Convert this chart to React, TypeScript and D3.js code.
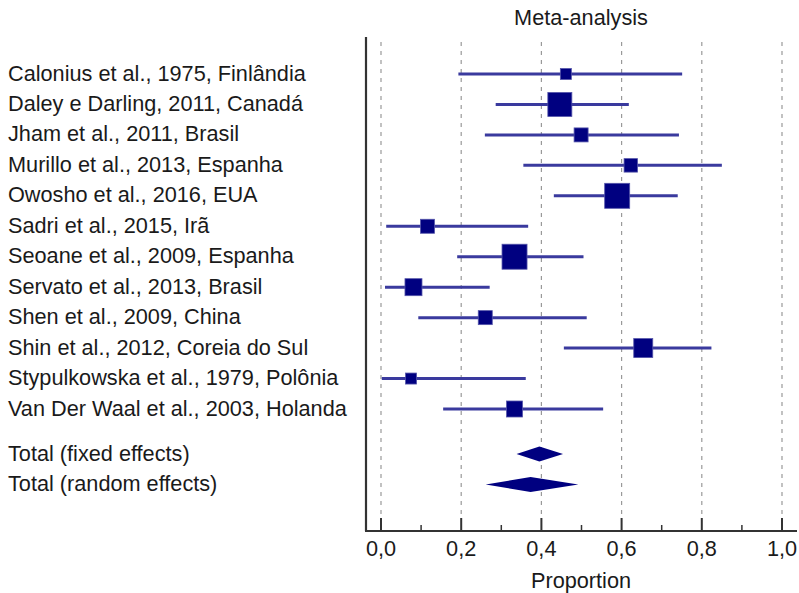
import React from "react";
import * as d3 from "d3";

const studies = [
  "Calonius et al., 1975, Finlândia",
  "Daley e Darling, 2011, Canadá",
  "Jham et al., 2011, Brasil",
  "Murillo et al., 2013, Espanha",
  "Owosho et al., 2016, EUA",
  "Sadri et al., 2015, Irã",
  "Seoane et al., 2009, Espanha",
  "Servato et al., 2013, Brasil",
  "Shen et al., 2009, China",
  "Shin et al., 2012, Coreia do Sul",
  "Stypulkowska et al., 1979, Polônia",
  "Van Der Waal et al., 2003, Holanda",
];
const estimates = [0.461, 0.446, 0.499, 0.623, 0.589, 0.116, 0.333, 0.081, 0.26, 0.654, 0.075, 0.333];
const lowerCI = [0.193, 0.286, 0.259, 0.355, 0.431, 0.013, 0.19, 0.01, 0.093, 0.456, 0.002, 0.155];
const upperCI = [0.751, 0.618, 0.743, 0.85, 0.74, 0.367, 0.505, 0.271, 0.513, 0.824, 0.361, 0.554];
const weights = [11, 24, 14, 13.5, 25, 14, 25, 17, 14, 19, 11, 16];

const totalLabels = ["Total (fixed effects)", "Total (random effects)"];
const totalEst = [0.395, 0.373];
const totalLow = [0.338, 0.261];
const totalHigh = [0.454, 0.492];

const majorTicks = [0, 0.2, 0.4, 0.6, 0.8, 1.0];
const minorTicks = [0.1, 0.3, 0.5, 0.7, 0.9];

export default function App() {
  const W = 799, H = 593;
  const x = d3.scaleLinear().domain([0, 1]).range([381, 782]);
  const y = d3.scaleLinear().domain([0, 11]).range([74, 409]);
  const yTotal = [454, 484.5];
  const axisY = 531;
  const fmt = (v: number) => d3.format(".1f")(v).replace(".", ",");
  const font = "Liberation Sans, Arial, sans-serif";
  const fs = 21.7;

  return (
    <svg width={W} height={H} style={{ position: "absolute", left: 0, top: 0 }} fontFamily={font}>
      <rect width={W} height={H} fill="#fff" />
      <text x={581} y={25} textAnchor="middle" fontSize={fs} fill="#1a1a1a">Meta-analysis</text>
      {majorTicks.map((t) => (
        <line key={"g" + t} x1={x(t)} x2={x(t)} y1={42} y2={518} stroke="#999" strokeWidth={1.2} strokeDasharray="4,5" />
      ))}
      <line x1={366} x2={366} y1={37} y2={axisY} stroke="#333" strokeWidth={2.2} />
      <line x1={365} x2={797} y1={axisY} y2={axisY} stroke="#333" strokeWidth={2.2} />
      {majorTicks.map((t) => (
        <g key={"t" + t}>
          <line x1={x(t)} x2={x(t)} y1={518} y2={axisY} stroke="#333" strokeWidth={2} />
          <text x={x(t)} y={556} textAnchor="middle" fontSize={fs} fill="#1a1a1a">{fmt(t)}</text>
        </g>
      ))}
      {minorTicks.map((t) => (
        <line key={"m" + t} x1={x(t)} x2={x(t)} y1={525} y2={axisY} stroke="#333" strokeWidth={1.5} />
      ))}
      <text x={581} y={588} textAnchor="middle" fontSize={fs} fill="#1a1a1a">Proportion</text>
      {studies.map((s, i) => (
        <g key={s}>
          <text x={8} y={y(i) + 6.5} fontSize={fs} fill="#1a1a1a">{s}</text>
          <line x1={x(lowerCI[i])} x2={x(upperCI[i])} y1={y(i)} y2={y(i)} stroke="#3a3a9e" strokeWidth={3} />
          <rect x={x(estimates[i]) - weights[i] / 2} y={y(i) - weights[i] / 2} width={weights[i]} height={weights[i]} fill="#000080" stroke="#5555aa" strokeWidth={0.8} />
        </g>
      ))}
      {totalLabels.map((s, i) => {
        const cy = yTotal[i];
        const pts = [
          [x(totalLow[i]), cy],
          [x(totalEst[i]), cy - 7.5],
          [x(totalHigh[i]), cy],
          [x(totalEst[i]), cy + 7.5],
        ];
        return (
          <g key={s}>
            <text x={8} y={cy + 6.5} fontSize={fs} fill="#1a1a1a">{s}</text>
            <polygon points={pts.map((p) => p.join(",")).join(" ")} fill="#000080" />
          </g>
        );
      })}
    </svg>
  );
}
